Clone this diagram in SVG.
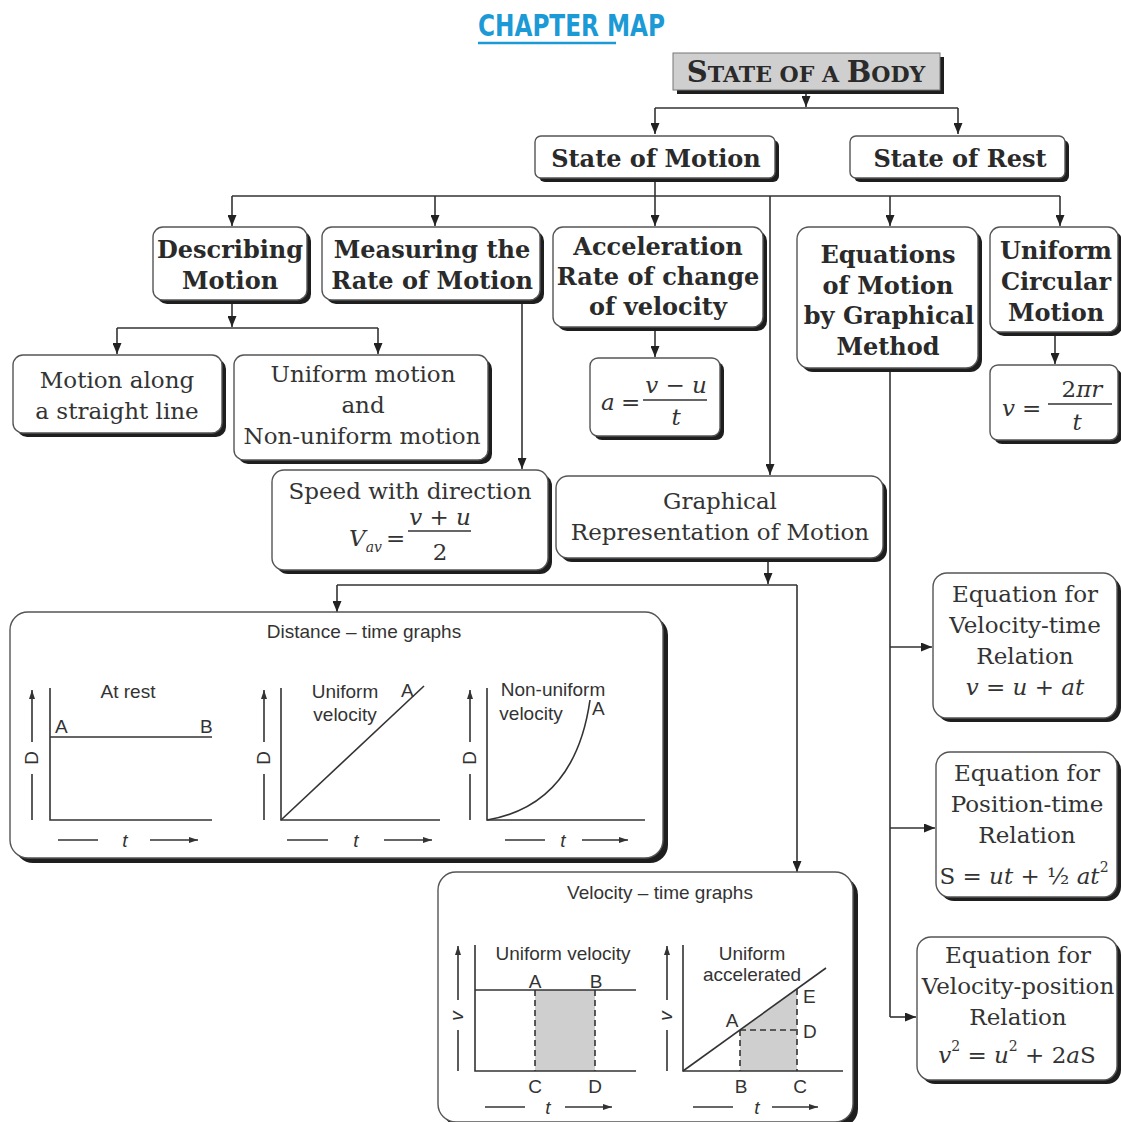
<svg xmlns="http://www.w3.org/2000/svg" width="1121" height="1122" viewBox="0 0 1121 1122">
<defs>
<marker id="ah" markerWidth="11" markerHeight="9" refX="11" refY="4.5" orient="auto" markerUnits="userSpaceOnUse"><path d="M0,0 L11,4.5 L0,9 z" fill="#222"/></marker>
<marker id="as" markerWidth="9" markerHeight="6" refX="9" refY="3" orient="auto" markerUnits="userSpaceOnUse"><path d="M0,0 L9,3 L0,6 z" fill="#333"/></marker>
</defs>
<style>
.box{fill:#fff;stroke:#555;stroke-width:1.4}
.sh{fill:#1e1e1e}
.c{fill:none;stroke:#333;stroke-width:1.6}
.ca{fill:none;stroke:#333;stroke-width:1.6;marker-end:url(#ah)}
.b{font-family:"DejaVu Serif","Liberation Serif",serif;font-weight:bold;font-size:24px;fill:#2a2a2a;text-anchor:middle}
.r{font-family:"DejaVu Serif","Liberation Serif",serif;font-size:23px;fill:#333;text-anchor:middle}
.m{font-family:"DejaVu Serif","Liberation Serif",serif;font-size:23px;fill:#333}
.i{font-style:italic}
.g{font-family:"Liberation Sans",Arial,sans-serif;font-size:19px;fill:#333}
.gm{font-family:"Liberation Sans",Arial,sans-serif;font-size:19px;fill:#333;text-anchor:middle}
.ax{fill:none;stroke:#333;stroke-width:1.6}
.ya{fill:none;stroke:#333;stroke-width:1.6;marker-end:url(#as)}
.d{fill:none;stroke:#333;stroke-width:1.6;stroke-dasharray:6,4}
</style>
<rect width="1121" height="1122" fill="#fff"/>

<g id="title">
<text x="478" y="36" font-family="DejaVu Sans Condensed,Liberation Sans,Arial,sans-serif" font-weight="bold" font-size="31" fill="#1c9ad6" textLength="187" lengthAdjust="spacingAndGlyphs">CHAPTER MAP</text>
<line x1="478" y1="43" x2="616" y2="43" stroke="#1c9ad6" stroke-width="2.5"/>
</g>

<g id="connectors">
<path class="ca" d="M806,90 V107"/>
<path class="c" d="M655,108 H958"/>
<path class="ca" d="M655,108 V134"/>
<path class="ca" d="M958,108 V134"/>
<path class="c" d="M655,178 V196"/>
<path class="c" d="M232,196 H1060"/>
<path class="ca" d="M232,196 V226"/>
<path class="ca" d="M435,196 V226"/>
<path class="ca" d="M655,196 V226"/>
<path class="ca" d="M890,196 V226"/>
<path class="ca" d="M1060,196 V226"/>
<path class="ca" d="M770,196 V475"/>
<path class="ca" d="M232,300 V327"/>
<path class="c" d="M117,328 H378"/>
<path class="ca" d="M117,328 V354"/>
<path class="ca" d="M378,328 V354"/>
<path class="ca" d="M522,300 V469"/>
<path class="ca" d="M655,327 V357"/>
<path class="ca" d="M1055,332 V364"/>
<path class="ca" d="M768,558 V584"/>
<path class="c" d="M337,585 H797"/>
<path class="ca" d="M337,585 V612"/>
<path class="ca" d="M797,585 V872"/>
<path class="c" d="M890,368 V1017"/>
<path class="ca" d="M890,647 H932"/>
<path class="ca" d="M890,828 H935"/>
<path class="ca" d="M890,1017 H916"/>
<path class="c" d="M128,650 H569"/>
<path class="ca" d="M128,650 V679"/>
<path class="ca" d="M348,650 V679"/>
<path class="ca" d="M569,650 V679"/>
<path class="c" d="M541,910 H776"/>
<path class="ca" d="M541,910 V938"/>
<path class="ca" d="M776,910 V938"/>
</g>

<g id="state-of-a-body">
<rect x="677" y="57" width="267" height="37" fill="#1e1e1e"/>
<rect x="673" y="53" width="267" height="37" fill="#cfcfcf" stroke="#777" stroke-width="1"/>
<text x="806" y="82" font-family="DejaVu Serif,Liberation Serif,serif" font-weight="bold" font-size="29" fill="#2a2a2a" text-anchor="middle">S<tspan font-size="22">TATE OF A </tspan>B<tspan font-size="22">ODY</tspan></text>
</g>

<g id="state-of-motion">
<rect class="sh" x="539" y="140" width="240" height="42" rx="6"/>
<rect class="box" x="535" y="136" width="240" height="42" rx="6"/>
<text class="b" x="656" y="167" font-size="27">State of Motion</text>
</g>

<g id="state-of-rest">
<rect class="sh" x="854" y="140" width="215" height="42" rx="6"/>
<rect class="box" x="850" y="136" width="215" height="42" rx="6"/>
<text class="b" x="960" y="167" font-size="27">State of Rest</text>
</g>

<g id="describing-motion">
<rect class="sh" x="157" y="231" width="154" height="73" rx="10"/>
<rect class="box" x="153" y="227" width="154" height="73" rx="10"/>
<text class="b" x="230" y="258">Describing</text>
<text class="b" x="230" y="289">Motion</text>
</g>

<g id="measuring-rate">
<rect class="sh" x="326" y="231" width="218" height="73" rx="10"/>
<rect class="box" x="322" y="227" width="218" height="73" rx="10"/>
<text class="b" x="432" y="258">Measuring the</text>
<text class="b" x="432" y="289">Rate of Motion</text>
</g>

<g id="acceleration">
<rect class="sh" x="557" y="231" width="210" height="100" rx="10"/>
<rect class="box" x="553" y="227" width="210" height="100" rx="10"/>
<text class="b" x="658" y="255">Acceleration</text>
<text class="b" x="658" y="285">Rate of change</text>
<text class="b" x="658" y="315">of velocity</text>
</g>

<g id="equations-of-motion">
<rect class="sh" x="801" y="231" width="181" height="141" rx="12"/>
<rect class="box" x="797" y="227" width="181" height="141" rx="12"/>
<text class="b" x="888" y="263">Equations</text>
<text class="b" x="888" y="294">of Motion</text>
<text class="b" x="889" y="324">by Graphical</text>
<text class="b" x="888" y="355">Method</text>
</g>

<g id="uniform-circular">
<rect class="sh" x="994" y="231" width="128" height="105" rx="10"/>
<rect class="box" x="990" y="227" width="128" height="105" rx="10"/>
<text class="b" x="1056" y="259">Uniform</text>
<text class="b" x="1056" y="290">Circular</text>
<text class="b" x="1056" y="321">Motion</text>
</g>

<g id="motion-straight-line">
<rect class="sh" x="17" y="359" width="209" height="78" rx="10"/>
<rect class="box" x="13" y="355" width="209" height="78" rx="10"/>
<text class="r" x="117" y="388">Motion along</text>
<text class="r" x="117" y="419">a straight line</text>
</g>

<g id="uniform-nonuniform">
<rect class="sh" x="238" y="359" width="254" height="105" rx="10"/>
<rect class="box" x="234" y="355" width="254" height="105" rx="10"/>
<text class="r" x="363" y="382">Uniform motion</text>
<text class="r" x="363" y="413">and</text>
<text class="r" x="362" y="444">Non-uniform motion</text>
</g>

<g id="acceleration-formula">
<rect class="sh" x="594" y="362" width="130" height="78" rx="8"/>
<rect class="box" x="590" y="358" width="130" height="78" rx="8"/>
<text class="m i" x="601" y="410">a</text>
<text class="m" x="621" y="410">=</text>
<line x1="643" y1="400" x2="707" y2="400" stroke="#333" stroke-width="1.3"/>
<text class="r" x="676" y="393"><tspan class="i">v</tspan> − <tspan class="i">u</tspan></text>
<text class="r i" x="676" y="425">t</text>
</g>

<g id="circular-formula">
<rect class="sh" x="994" y="369" width="128" height="75" rx="8"/>
<rect class="box" x="990" y="365" width="128" height="75" rx="8"/>
<text class="m i" x="1002" y="416">v</text>
<text class="m" x="1022" y="416">=</text>
<line x1="1048" y1="404" x2="1112" y2="404" stroke="#333" stroke-width="1.3"/>
<text class="r" x="1082" y="397">2<tspan class="i">πr</tspan></text>
<text class="r i" x="1077" y="430">t</text>
</g>

<g id="speed-with-direction">
<rect class="sh" x="276" y="474" width="276" height="100" rx="12"/>
<rect class="box" x="272" y="470" width="276" height="100" rx="12"/>
<text class="r" x="410" y="499">Speed with direction</text>
<text class="m i" x="349" y="546">V<tspan font-size="14" dy="6">av</tspan></text>
<text class="m" x="386" y="546">=</text>
<line x1="408" y1="531" x2="471" y2="531" stroke="#333" stroke-width="1.3"/>
<text class="r" x="440" y="525"><tspan class="i">v</tspan> + <tspan class="i">u</tspan></text>
<text class="r" x="440" y="560">2</text>
</g>

<g id="graphical-representation">
<rect class="sh" x="560" y="480" width="327" height="82" rx="12"/>
<rect class="box" x="556" y="476" width="327" height="82" rx="12"/>
<text class="r" x="720" y="509">Graphical</text>
<text class="r" x="720" y="540">Representation of Motion</text>
</g>

<g id="distance-time-graphs">
<rect class="sh" x="15" y="617" width="653" height="246" rx="18"/>
<rect class="box" x="10" y="612" width="653" height="246" rx="18"/>
<text class="gm" x="364" y="638">Distance – time graphs</text>
<!-- graph 1 -->
<text class="gm" x="128" y="698">At rest</text>
<path class="ax" d="M50,688 V820 H212"/>
<path class="ax" d="M50,737 H212"/>
<text class="g" x="55" y="733">A</text>
<text class="g" x="200" y="733">B</text>
<path class="ya" d="M32,742 V690"/>
<path class="ax" d="M32,774 V820"/>
<text class="gm" transform="translate(38,758) rotate(-90)" font-size="18">D</text>
<path class="ax" d="M58,840 H98"/>
<text class="gm i" x="125" y="847">t</text>
<path class="ya" d="M150,840 H198"/>
<!-- graph 2 -->
<text class="gm" x="345" y="698">Uniform</text>
<text class="gm" x="345" y="721">velocity</text>
<path class="ax" d="M281,688 V820 H440"/>
<path class="ax" d="M281,820 L424,686"/>
<text class="g" x="401" y="697">A</text>
<path class="ya" d="M264,742 V690"/>
<path class="ax" d="M264,774 V820"/>
<text class="gm" transform="translate(270,758) rotate(-90)" font-size="18">D</text>
<path class="ax" d="M287,840 H328"/>
<text class="gm i" x="356" y="847">t</text>
<path class="ya" d="M384,840 H432"/>
<!-- graph 3 -->
<text class="gm" x="553" y="696">Non-uniform</text>
<text class="gm" x="531" y="720">velocity</text>
<path class="ax" d="M487,688 V820 H645"/>
<path class="ax" d="M487,820 Q575,805 590,700"/>
<text class="g" x="592" y="715">A</text>
<path class="ya" d="M470,742 V690"/>
<path class="ax" d="M470,774 V820"/>
<text class="gm" transform="translate(476,758) rotate(-90)" font-size="18">D</text>
<path class="ax" d="M505,840 H545"/>
<text class="gm i" x="563" y="847">t</text>
<path class="ya" d="M582,840 H628"/>
</g>

<g id="velocity-time-graphs">
<rect class="sh" x="443" y="877" width="415" height="250" rx="18"/>
<rect class="box" x="438" y="872" width="415" height="250" rx="18"/>
<text class="gm" x="660" y="899">Velocity – time graphs</text>
<!-- graph 1 -->
<rect x="535" y="990" width="60" height="81" fill="#cfcfcf"/>
<text class="gm" x="563" y="960">Uniform velocity</text>
<path class="ax" d="M475,945 V1071 H636"/>
<path class="ax" d="M475,990 H636"/>
<path class="d" d="M535,990 V1071 M595,990 V1071"/>
<text class="gm" x="535" y="988">A</text>
<text class="gm" x="596" y="988">B</text>
<text class="gm" x="535" y="1093">C</text>
<text class="gm" x="595" y="1093">D</text>
<path class="ya" d="M458,1000 V946"/>
<path class="ax" d="M458,1030 V1071"/>
<text class="gm i" transform="translate(463,1016) rotate(-90)" font-size="14">v</text>
<path class="ax" d="M485,1107 H525"/>
<text class="gm i" x="548" y="1114">t</text>
<path class="ya" d="M565,1107 H612"/>
<!-- graph 2 -->
<path d="M740,1071 V1030 L797,989 V1071 z" fill="#cfcfcf"/>
<text class="gm" x="752" y="960">Uniform</text>
<text class="gm" x="752" y="981">accelerated</text>
<path class="ax" d="M683,945 V1071 H843"/>
<path class="ax" d="M683,1071 L826,968"/>
<path class="d" d="M740,1030 V1071 M797,989 V1071 M740,1030 H797"/>
<text class="gm" x="732" y="1027">A</text>
<text class="g" x="803" y="1003">E</text>
<text class="g" x="803" y="1038">D</text>
<text class="gm" x="741" y="1093">B</text>
<text class="gm" x="800" y="1093">C</text>
<path class="ya" d="M667,1000 V946"/>
<path class="ax" d="M667,1030 V1071"/>
<text class="gm i" transform="translate(672,1016) rotate(-90)" font-size="14">v</text>
<path class="ax" d="M693,1107 H733"/>
<text class="gm i" x="757" y="1114">t</text>
<path class="ya" d="M772,1107 H818"/>
</g>

<g id="eq-velocity-time">
<rect class="sh" x="937" y="577" width="184" height="145" rx="14"/>
<rect class="box" x="933" y="573" width="184" height="145" rx="14"/>
<text class="r" x="1025" y="602">Equation for</text>
<text class="r" x="1025" y="633">Velocity-time</text>
<text class="r" x="1025" y="664">Relation</text>
<text class="r" x="1025" y="695"><tspan class="i">v</tspan> = <tspan class="i">u</tspan> + <tspan class="i">at</tspan></text>
</g>

<g id="eq-position-time">
<rect class="sh" x="940" y="756" width="181" height="145" rx="14"/>
<rect class="box" x="936" y="752" width="181" height="145" rx="14"/>
<text class="r" x="1027" y="781">Equation for</text>
<text class="r" x="1027" y="812">Position-time</text>
<text class="r" x="1027" y="843">Relation</text>
<text class="r" x="1024" y="884">S = <tspan class="i">ut</tspan> + ½ <tspan class="i">at</tspan><tspan font-size="14" dy="-12">2</tspan></text>
</g>

<g id="eq-velocity-position">
<rect class="sh" x="921" y="941" width="200" height="143" rx="14"/>
<rect class="box" x="917" y="937" width="200" height="143" rx="14"/>
<text class="r" x="1018" y="963">Equation for</text>
<text class="r" x="1018" y="994">Velocity-position</text>
<text class="r" x="1018" y="1025">Relation</text>
<text class="r" x="1017" y="1063"><tspan class="i">v</tspan><tspan font-size="14" dy="-12">2</tspan><tspan dy="12"> = </tspan><tspan class="i">u</tspan><tspan font-size="14" dy="-12">2</tspan><tspan dy="12"> + 2</tspan><tspan class="i">a</tspan>S</text>
</g>
</svg>
